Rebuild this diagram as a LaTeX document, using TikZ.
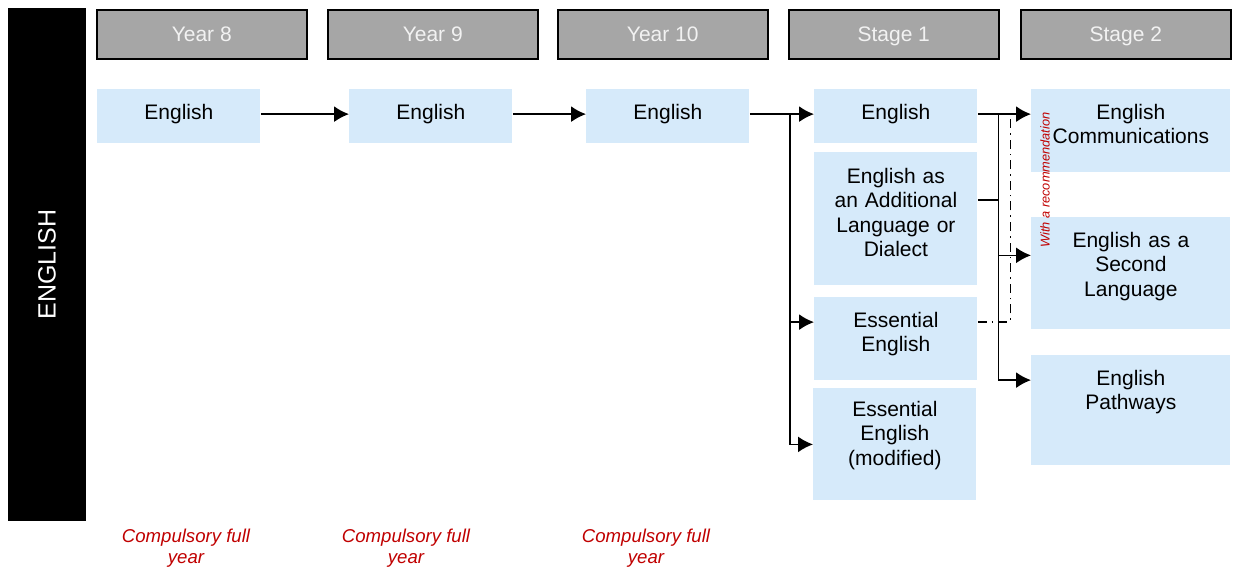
\documentclass[tikz,border=0pt]{standalone}
\usepackage{fontspec}
\setmainfont{Liberation Sans}
\usetikzlibrary{arrows.meta, calc}
\definecolor{hdrgray}{RGB}{166,166,166}
\definecolor{hdrtext}{RGB}{242,242,242}
\definecolor{boxblue}{RGB}{214,234,250}
\definecolor{notered}{RGB}{192,0,0}
\tikzset{
	hdr/.style={draw=black, line width=0.75pt, fill=hdrgray, text=hdrtext, text height=7.5pt, text depth=0pt,
		minimum width=105pt, minimum height=24.5pt, anchor=north west, inner sep=0pt},
	subj/.style={fill=boxblue, anchor=north west, inner sep=0pt, align=center, text height=15pt},
	note/.style={text=notered, font=\fontsize{9.3}{10.5}\selectfont\itshape, align=center},
	link/.style={line width=0.8pt},
	recline/.style={line width=0.7pt, dash pattern=on 4.5pt off 2.5pt on 0.8pt off 2.5pt},
}

\begin{document}
\begin{tikzpicture}[x=0.5pt, y=-0.5pt, >={Latex[length=7.5pt,width=8pt]}, font=\fontsize{10.5}{12.2}\selectfont]
\useasboundingbox (0,0) rectangle (1239,569);
%========================
% side bar
%========================
\node[fill=black, text=white, inner sep=0pt, rotate=90, minimum width=256.5pt, minimum height=39pt,
	font=\fontsize{12.5}{14}\selectfont] (side) at (47,264.5) {ENGLISH};

% headers
\node[hdr] (h8) at (96,9) {Year 8};
\node[hdr] (h9) at (327,9) {Year 9};
\node[hdr] (h10) at (557,9) {Year 10};
\node[hdr] (hs1) at (788,9) {Stage 1};
\node[hdr] (hs2) at (1020,9) {Stage 2};

%========================
% subjects
%========================
\node[subj, text width=81.5pt, text depth=12pt] (e8) at (97,89) {English};
\node[subj, text width=81.5pt, text depth=12pt] (e9) at (349,89) {English};
\node[subj, text width=81.5pt, text depth=12pt] (e10) at (586,89) {English};

% stage 1
\node[subj, text width=81.5pt, text depth=12pt] (s1e) at (814,89) {English};
\node[subj, text width=81.5pt, text height=15.5pt, text depth=51pt] (eald) at (814,152)
	{English as\\an Additional\\Language or\\Dialect};
\node[subj, text width=81.5pt, text depth=26.5pt] (ess) at (814,297) {Essential\\English};
\node[subj, text width=81.5pt, text height=14pt, text depth=42pt] (essm) at (813,388)
	{Essential\\English\\(modified)};

% stage 2
\node[subj, text width=99.5pt, text depth=26.5pt] (comm) at (1031,89) {English\\Communications};
\node[subj, text width=99.5pt, text depth=41pt] (esl) at (1031,217) {English as a\\Second\\Language};
\node[subj, text width=99.5pt, text depth=40pt] (path) at (1031,355) {English\\Pathways};

%========================
% connectors
%========================
\draw[link,->] (e8.mid east) -- (e9.mid west);
\draw[link,->] (e9.mid east) -- (e10.mid west);

% year 10 -> stage 1
\coordinate (j1) at ($(e10.mid east)!0.63!(s1e.mid west)$);
\draw[link,->] (e10.mid east) -- (s1e.mid west);
\draw[link,->] (j1) |- (ess.mid west);
\draw[link,->] (j1) |- (essm.west);

% stage 1 -> stage 2
\coordinate (j2) at ($(s1e.mid east)!0.39!(comm.mid west)$);
\draw[link,->] (s1e.mid east) -- (comm.mid west);
\draw[link,->] (j2) |- (path.mid west);
\draw[link,->] (j2) |- ($(esl.north west)!0.34!(esl.south west)$);
\draw[link] ($(eald.north east)!0.36!(eald.south east)$) coordinate (ea) -- (ea -| j2);

% recommendation
\draw[recline] (ess.mid east) -| ($(s1e.mid east)!0.61!(comm.mid west)$);
\node[text=notered, rotate=90, font=\fontsize{6.4}{7}\selectfont\itshape] (rec) at (1045,180)
	{With a recommendation};

% notes
\node[note] (n8) at (186,548.5) {Compulsory full\\year};
\node[note] (n9) at (406,548.5) {Compulsory full\\year};
\node[note] (n10) at (646,548.5) {Compulsory full\\year};
\end{tikzpicture}
\end{document}
